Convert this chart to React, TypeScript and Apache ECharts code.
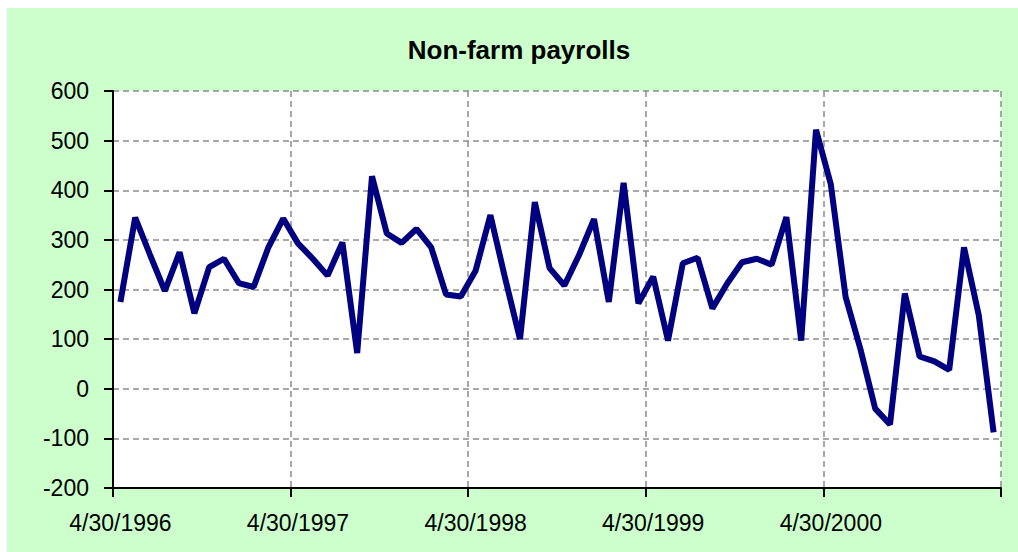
import React, { useEffect, useRef } from "react";
import * as echarts from "echarts";

const categories: string[] = [
  "4/30/1996", "5/31/1996", "6/30/1996", "7/31/1996", "8/31/1996", "9/30/1996",
  "10/31/1996", "11/30/1996", "12/31/1996", "1/31/1997", "2/28/1997", "3/31/1997",
  "4/30/1997", "5/31/1997", "6/30/1997", "7/31/1997", "8/31/1997", "9/30/1997",
  "10/31/1997", "11/30/1997", "12/31/1997", "1/31/1998", "2/28/1998", "3/31/1998",
  "4/30/1998", "5/31/1998", "6/30/1998", "7/31/1998", "8/31/1998", "9/30/1998",
  "10/31/1998", "11/30/1998", "12/31/1998", "1/31/1999", "2/28/1999", "3/31/1999",
  "4/30/1999", "5/31/1999", "6/30/1999", "7/31/1999", "8/31/1999", "9/30/1999",
  "10/31/1999", "11/30/1999", "12/31/1999", "1/31/2000", "2/29/2000", "3/31/2000",
  "4/30/2000", "5/31/2000", "6/30/2000", "7/31/2000", "8/31/2000", "9/30/2000",
  "10/31/2000", "11/30/2000", "12/31/2000", "1/31/2001", "2/28/2001", "3/31/2001",
];

const payrolls: number[] = [
  175, 345, 270, 197, 275, 152, 245, 262, 213, 205, 285, 343,
  293, 262, 228, 295, 72, 428, 313, 294, 322, 285, 190, 186,
  238, 350, 222, 100, 376, 243, 208, 270, 342, 175, 415, 172,
  226, 97, 253, 264, 162, 212, 255, 262, 250, 346, 97, 522,
  412, 185, 80, -40, -72, 192, 65, 55, 38, 285, 148, -88,
];

const titleText = "Non-farm payrolls";
const yMin = -200;
const yMax = 600;
const yStep = 100;

const FONT = "'Liberation Sans', Arial, sans-serif";

export default function App() {
  const ref = useRef<HTMLDivElement>(null);
  useEffect(() => {
    if (!ref.current) return;
    const chart = echarts.init(ref.current, undefined, { renderer: "svg" });
    const grid = "#8c8c8c";
    chart.setOption({
      animation: false,
      backgroundColor: "#ccffcc",
      graphic: [
        {
          type: "text",
          x: 512,
          y: 29,
          style: {
            text: titleText,
            textAlign: "center",
            textVerticalAlign: "top",
            font: `bold 26px ${FONT}`,
            fill: "#000",
          },
        },
      ],
      grid: {
        left: 106,
        top: 83,
        right: 17,
        bottom: 64,
        show: true,
        backgroundColor: "#ffffff",
        borderWidth: 0,
      },
      xAxis: {
        type: "category",
        data: categories,
        boundaryGap: true,
        axisLine: { show: true, onZero: false, lineStyle: { color: "#000", width: 2 } },
        axisTick: {
          show: true,
          interval: 11,
          length: 9,
          lineStyle: { color: "#000", width: 2 },
        },
        axisLabel: {
          interval: 11,
          margin: 23,
          fontSize: 23,
          fontFamily: FONT,
          color: "#000",
        },
        splitLine: {
          show: true,
          interval: 11,
          lineStyle: { type: [6, 4], color: grid, width: 1.5 },
        },
      },
      yAxis: {
        type: "value",
        min: yMin,
        max: yMax,
        interval: yStep,
        axisLine: { show: true, lineStyle: { color: "#000", width: 2 } },
        axisTick: { show: true, length: 9, lineStyle: { color: "#000", width: 2 } },
        axisLabel: {
          margin: 24,
          fontSize: 23,
          fontFamily: FONT,
          color: "#000",
        },
        splitLine: {
          show: true,
          lineStyle: { type: [6, 4], color: grid, width: 1.5 },
        },
      },
      series: [
        {
          type: "line",
          data: payrolls,
          symbol: "none",
          lineStyle: { color: "#000080", width: 6 },
        },
      ],
    });
    return () => chart.dispose();
  }, []);
  return (
    <div
      ref={ref}
      style={{ position: "absolute", left: 7, top: 8, width: 1011, height: 544 }}
    />
  );
}
